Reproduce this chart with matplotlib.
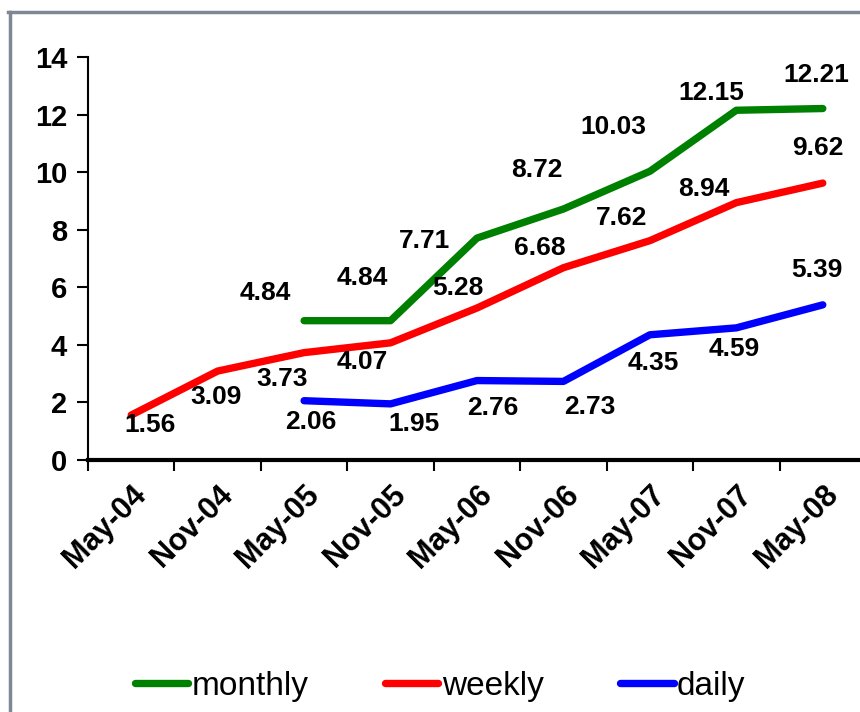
import matplotlib
matplotlib.use("Agg")
import matplotlib.pyplot as plt
from matplotlib.lines import Line2D
import numpy as np

plt.rcParams['font.family'] = ['Liberation Sans', 'DejaVu Sans']

categories = ["May-04", "Nov-04", "May-05", "Nov-05", "May-06", "Nov-06", "May-07", "Nov-07", "May-08"]
monthly = [None, None, 4.84, 4.84, 7.71, 8.72, 10.03, 12.15, 12.21]
weekly = [1.56, 3.09, 3.73, 4.07, 5.28, 6.68, 7.62, 8.94, 9.62]
daily = [None, None, 2.06, 1.95, 2.76, 2.73, 4.35, 4.59, 5.39]
yticks = [0, 2, 4, 6, 8, 10, 12, 14]

# label offsets in pixels (dx, dy)
off_monthly = [None, None, (-39, 28), (-28, 43), (-52, -3), (-27, 39), (-37, 44), (-25, 17), (-6, 34)]
off_weekly = [(19, -10), (-2, -26), (-22, -26), (-28, -19), (-19, 20), (-24, 20), (-28, 23), (-33, 14), (-5, 35)]
off_daily = [None, None, (7, -21), (23, -20), (16, -27), (26, -26), (3, -28), (-2, -21), (-6, 35)]

W, H = 860, 712
fig = plt.figure(figsize=(W / 100, H / 100), dpi=100)
ax = fig.add_axes([88 / W, (H - 460) / H, (866 - 88) / W, (460 - 57) / H])

x = np.arange(len(categories))

def to_arr(v):
    return np.array([np.nan if a is None else a for a in v], dtype=float)

series = [("monthly", monthly, off_monthly, "#008000"),
          ("weekly", weekly, off_weekly, "#ff0000"),
          ("daily", daily, off_daily, "#0000ff")]

for name, vals, offs, col in series:
    arr = to_arr(vals)
    ax.plot(x, arr, color=col, lw=5.3, solid_capstyle='round', solid_joinstyle='round',
            label=name, zorder=3, clip_on=False)
    for xi, v, o in zip(x, vals, offs):
        if v is None:
            continue
        ax.annotate(f"{v:.2f}", (xi, v), xytext=o, textcoords='offset pixels',
                    ha='center', va='center', fontsize=19, fontweight='bold', zorder=4)

ax.set_xlim(-0.5, len(categories) - 0.5)
ax.set_ylim(0, 14)
ax.set_yticks(yticks)
ax.set_yticklabels([str(t) for t in yticks], fontsize=21, fontweight='bold')
ax.set_xticks(np.arange(len(categories) + 1) - 0.5)
ax.set_xticklabels([])
ax.set_xticks(x, minor=True)
ax.set_xticklabels(categories, minor=True, rotation=45, ha='right', va='top',
                   rotation_mode='anchor', fontsize=22, fontweight='bold')
ax.tick_params(axis='x', which='minor', length=0, pad=14)
ax.tick_params(axis='x', which='major', length=8, width=1.5, direction='out')
ax.tick_params(axis='y', length=8, width=1.5, direction='out', pad=7)

for s in ['top', 'right']:
    ax.spines[s].set_visible(False)
ax.spines['left'].set_linewidth(1.5)
ax.spines['bottom'].set_linewidth(3)

# outer frame (left and top edges visible)
frame_col = "#7f8696"
fig.add_artist(Line2D([9.5 / W, 9.5 / W], [0, (H - 12) / H], color=frame_col, lw=2.5, transform=fig.transFigure))
fig.add_artist(Line2D([8 / W, 1], [(H - 12) / H, (H - 12) / H], color=frame_col, lw=2.5, transform=fig.transFigure))

fig.legend(loc='center', bbox_to_anchor=(440 / W, (H - 686) / H), ncol=3, frameon=False,
           fontsize=24, handlelength=1.6, handletextpad=0.1, columnspacing=2.3)

fig.savefig("out.png", dpi=100)
